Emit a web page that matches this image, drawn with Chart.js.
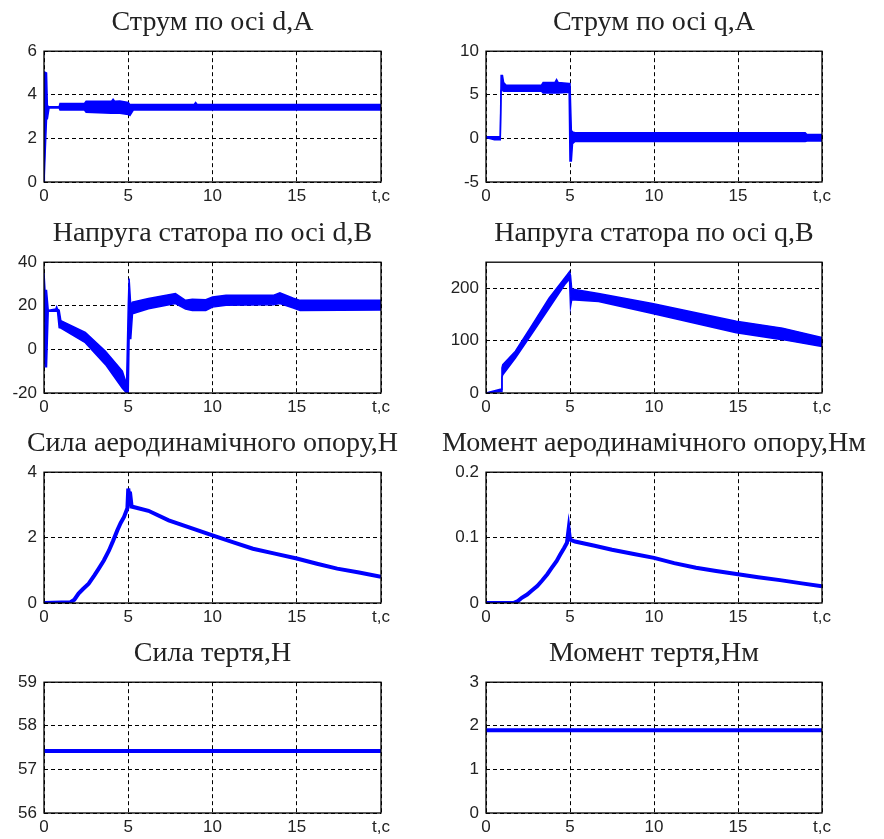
<!DOCTYPE html>
<html>
<head>
<meta charset="utf-8">
<script src="https://cdn.jsdelivr.net/npm/chart.js@4.4.0/dist/chart.umd.min.js"></script>
<style>
    body { margin: 0; background: #fff; }
    #page { position: relative; width: 884px; height: 839px; overflow: hidden; }
    #page canvas { position: absolute; }
</style>
</head>
<body>
<div id="page"></div>
<script>
// panel titles
const titles = [
    'Струм по осі d,A', 'Струм по осі q,A',
    'Напруга статора по осі d,В', 'Напруга статора по осі q,В',
    'Сила аеродинамічного опору,Н', 'Момент аеродинамічного опору,Нм',
    'Сила тертя,Н', 'Момент тертя,Нм'
];

// y axis ranges
const yMin  = [0, -5, -20, 0, 0, 0, 56, 0];
const yMax  = [6, 10, 40, 250, 4, 0.2, 59, 3];
const yStep = [2, 5, 20, 100, 2, 0.1, 1, 1];
const xTicks = [0, 5, 10, 15, 20];

// current d (noisy band: upper and lower edge)
const tId  = [0, 0.02, 0.15, 0.2, 0.3, 0.9, 0.95, 2.4, 2.5, 4.0, 4.1, 4.2, 4.5, 5.0, 5.1, 5.3, 8.9, 9.0, 9.1, 20];
const idHi = [0, 5.05, 5.0, 3.5, 3.45, 3.45, 3.6, 3.6, 3.7, 3.7, 3.8, 3.7, 3.72, 3.65, 3.55, 3.55, 3.55, 3.65, 3.55, 3.55];
const idLo = [0, 0, 2.9, 2.9, 3.4, 3.4, 3.3, 3.3, 3.2, 3.15, 3.15, 3.15, 3.15, 3.1, 3.05, 3.3, 3.3, 3.3, 3.3, 3.3];

// current q
const tIq  = [0, 0.5, 0.85, 0.9, 0.98, 1.05, 1.2, 3.3, 3.4, 4.1, 4.2, 4.3, 4.95, 5.0, 5.08, 5.15, 5.3, 19.0, 19.1, 20];
const iqHi = [0.2, 0.2, 0.2, 7.2, 7.2, 6.4, 6.1, 6.1, 6.4, 6.4, 6.75, 6.4, 6.3, 6.3, 0.9, 0.75, 0.65, 0.65, 0.45, 0.45];
const iqLo = [0.1, -0.15, -0.15, 5.5, 5.5, 5.4, 5.4, 5.4, 5.2, 5.2, 5.2, 5.2, 5.3, -2.6, -2.6, -0.6, -0.35, -0.35, -0.3, -0.3];

// stator voltage d
const tUd  = [0, 0.02, 0.06, 0.15, 0.25, 0.3, 0.7, 0.75, 0.8, 0.9, 1.0, 2.45, 3.65, 4.65, 4.9, 5.0, 5.05, 5.15, 5.25, 6.2, 7.8, 8.4, 8.8, 9.6, 10.0, 10.8, 13.6, 14.0, 14.8, 15.2, 20];
const udHi = [35, 35, 27, 27, 18, 18, 18.5, 19.5, 18.5, 18, 13.2, 7.8, -0.8, -10, -16, 20, 32.5, 20, 21.7, 23.3, 25.6, 22.5, 23, 22.8, 24, 24.8, 24.8, 26, 23.5, 22.5, 22.5];
const udLo = [14, 14, -8, -8, 17.5, 17.5, 17.5, 17.5, 17.5, 10, 9.8, 3.1, -7, -17.8, -20, -20, 5, 5, 16.3, 18.6, 21, 18.5, 17.8, 17.8, 19.4, 20.2, 20.5, 21, 19, 17.8, 18.1];

// stator voltage q
const tUq  = [0, 0.85, 0.93, 0.95, 1.0, 1.75, 2.75, 3.75, 4.73, 4.97, 5.03, 5.1, 6.7, 9.9, 14.9, 17.65, 20];
const uqHi = [0, 7, 7, 48, 54, 80, 130, 181, 222, 232, 225, 199, 190, 171, 137, 124, 106];
const uqLo = [0, 3, 3, 30, 35, 67, 114, 162, 209, 218, 165, 178, 175, 152, 115, 102, 89];

// aerodynamic drag force
const tFa = [0, 1.55, 1.8, 2.05, 2.3, 2.65, 3.0, 3.25, 3.55, 3.85, 4.1, 4.35, 4.55, 4.75, 4.95, 5.0, 5.05, 5.1, 5.2, 6.2, 7.4, 8.7, 10, 11.2, 12.4, 13.7, 15, 16.2, 17.4, 18.7, 20];
const fa  = [0, 0.02, 0.1, 0.29, 0.42, 0.59, 0.85, 1.05, 1.3, 1.6, 1.9, 2.22, 2.45, 2.63, 2.9, 3.5, 3.3, 3.4, 2.95, 2.82, 2.53, 2.3, 2.07, 1.86, 1.66, 1.51, 1.36, 1.2, 1.05, 0.93, 0.8];

// aerodynamic drag torque
const tMa = [0, 1.63, 1.9, 2.13, 2.45, 2.73, 3.05, 3.33, 3.65, 3.92, 4.2, 4.42, 4.65, 4.82, 4.92, 5.0, 5.3, 6.4, 7.5, 8.8, 10, 11.2, 12.5, 13.7, 15, 16.2, 17.5, 18.8, 20];
const ma  = [0, 0, 0.003, 0.008, 0.013, 0.019, 0.026, 0.034, 0.044, 0.054, 0.064, 0.074, 0.084, 0.092, 0.113, 0.097, 0.094, 0.088, 0.0815, 0.075, 0.069, 0.061, 0.054, 0.049, 0.044, 0.0395, 0.035, 0.030, 0.0255];

// friction force and torque
const tFr = [0, 20];
const fr  = [57.42, 57.42];
const mr  = [1.9, 1.9];

const series = [
    [tId, idHi, idLo], [tIq, iqHi, iqLo],
    [tUd, udHi, udLo], [tUq, uqHi, uqLo],
    [tFa, fa, null], [tMa, ma, null],
    [tFr, fr, null], [tFr, mr, null]
];

const BLUE = '#0000ff';
// canvases are centred on their plot areas so the titles sit over the plots
const colLeft = [0, 430], colWidth = [425, 448], axisW = [44, 56];
const rowTop = [0, 211, 421, 631];

function pts(t, v) {
    return t.map((x, i) => ({ x: x, y: v[i] }));
}

function makeSets(t, hi, lo) {
    if (!lo) {
        return [{ data: pts(t, hi), borderColor: BLUE, borderWidth: 4, pointRadius: 0, fill: false }];
    }
    return [
        { data: pts(t, hi), borderColor: BLUE, borderWidth: 1.5, pointRadius: 0, fill: '+1', backgroundColor: BLUE },
        { data: pts(t, lo), borderColor: BLUE, borderWidth: 1.5, pointRadius: 0, fill: false }
    ];
}

// solid frame round the plot area
const boxPlugin = {
    id: 'box',
    afterDatasetsDraw(chart) {
        const a = chart.chartArea, ctx = chart.ctx;
        ctx.save();
        ctx.strokeStyle = '#000';
        ctx.lineWidth = 1.3;
        ctx.strokeRect(a.left, a.top, a.right - a.left, a.bottom - a.top);
        ctx.restore();
    }
};

const tickFont = { family: 'Liberation Sans', size: 17 };
const page = document.getElementById('page');

for (let i = 0; i < 8; i++) {
    const col = i % 2, row = Math.floor(i / 2);
    const canvas = document.createElement('canvas');
    canvas.width = colWidth[col];
    canvas.height = 210;
    canvas.style.left = colLeft[col] + 'px';
    canvas.style.top = rowTop[row] + 'px';
    page.appendChild(canvas);

    const [t, hi, lo] = series[i];
    new Chart(canvas.getContext('2d'), {
        type: 'line',
        data: { datasets: makeSets(t, hi, lo) },
        plugins: [boxPlugin],
        options: {
            responsive: false,
            animation: false,
            layout: { padding: 0 },
            plugins: {
                legend: { display: false },
                tooltip: { enabled: false },
                title: {
                    display: true,
                    text: titles[i],
                    color: '#222',
                    font: { family: 'Liberation Serif', size: 28, weight: 'normal', lineHeight: 1.15 },
                    padding: { top: 7, bottom: 12 }
                }
            },
            scales: {
                x: {
                    type: 'linear',
                    min: 0,
                    max: 20,
                    afterBuildTicks: s => { s.ticks = xTicks.map(v => ({ value: v })); },
                    afterFit: s => { s.height = 28; },
                    grid: { color: '#000', lineWidth: 1, drawTicks: false },
                    border: { display: false, dash: [4, 3] },
                    ticks: {
                        color: '#222',
                        font: tickFont,
                        padding: 4,
                        maxRotation: 0,
                        callback: v => (v === 20 ? 't,c' : v)
                    }
                },
                y: {
                    min: yMin[i],
                    max: yMax[i],
                    afterFit: s => { s.width = axisW[col]; },
                    grid: { color: '#000', lineWidth: 1, drawTicks: false },
                    border: { display: false, dash: [4, 3] },
                    ticks: { stepSize: yStep[i], includeBounds: false, color: '#222', font: tickFont, padding: 7 }
                },
                yr: {
                    position: 'right',
                    afterFit: s => { s.width = axisW[col]; },
                    grid: { display: false },
                    border: { display: false },
                    ticks: { display: false }
                }
            }
        }
    });
}
</script>
</body>
</html>
